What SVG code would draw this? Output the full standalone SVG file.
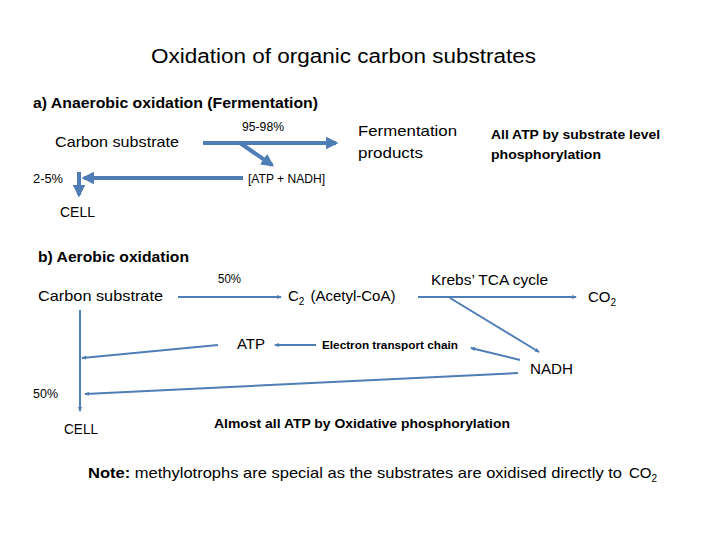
<svg xmlns="http://www.w3.org/2000/svg" width="720" height="540" viewBox="0 0 720 540">
<style>
text{font-family:"Liberation Sans","Noto Sans",sans-serif;fill:#000}
.t{font-size:20px}
.h{font-size:15px;font-weight:bold}
.n{font-size:15px}
.s{font-size:12px}
.b{font-size:13px;font-weight:bold}
.e{font-size:11px;font-weight:bold}
.thick{stroke:#4f7db5;stroke-width:4;fill:none}
.thin{stroke:#4f7db5;stroke-width:2;fill:none}
</style>
<defs>
<marker id="ah" viewBox="0 0 10 10" refX="8" refY="5" markerWidth="3.2" markerHeight="3.2" orient="auto" markerUnits="strokeWidth">
<path d="M0,0 L10,5 L0,10 z" fill="#4f7db5"/>
</marker>
<marker id="as" viewBox="0 0 10 10" refX="8" refY="5" markerWidth="2.6" markerHeight="2.6" orient="auto" markerUnits="strokeWidth">
<path d="M0,1 L10,5 L0,9 z" fill="#4f7db5"/>
</marker>
</defs>
<rect width="720" height="540" fill="#fff"/>
<g id="title"><text class="t" x="151" y="63" textLength="385" lengthAdjust="spacingAndGlyphs">Oxidation of organic carbon substrates</text></g>
<g id="heading-a"><text class="h" x="33" y="108" textLength="285" lengthAdjust="spacingAndGlyphs">a) Anaerobic oxidation (Fermentation)</text></g>
<g id="a-substrate"><text class="n" x="55" y="147" textLength="124" lengthAdjust="spacingAndGlyphs">Carbon substrate</text></g>
<g id="a-pct1"><text class="s" x="242" y="131" textLength="42" lengthAdjust="spacingAndGlyphs">95-98%</text></g>
<g id="a-products"><text class="n" x="358" y="136" textLength="99" lengthAdjust="spacingAndGlyphs">Fermentation</text><text class="n" x="358" y="158" textLength="65" lengthAdjust="spacingAndGlyphs">products</text></g>
<g id="a-note"><text class="b" x="491" y="139" textLength="169" lengthAdjust="spacingAndGlyphs">All ATP by substrate level</text><text class="b" x="491" y="159" textLength="110" lengthAdjust="spacingAndGlyphs">phosphorylation</text></g>
<g id="a-pct2"><text class="s" x="33" y="183" textLength="30" lengthAdjust="spacingAndGlyphs">2-5%</text></g>
<g id="a-atp"><text class="s" x="248" y="183" textLength="77" lengthAdjust="spacingAndGlyphs">[ATP + NADH]</text></g>
<g id="a-cell"><text class="n" x="60" y="217" textLength="35" lengthAdjust="spacingAndGlyphs">CELL</text></g>
<g id="heading-b"><text class="h" x="38" y="262" textLength="151" lengthAdjust="spacingAndGlyphs">b) Aerobic oxidation</text></g>
<g id="b-substrate"><text class="n" x="38" y="301" textLength="125" lengthAdjust="spacingAndGlyphs">Carbon substrate</text></g>
<g id="b-pct1"><text class="s" x="218" y="283" textLength="23" lengthAdjust="spacingAndGlyphs">50%</text></g>
<g id="b-acetyl"><text class="n" x="288" y="301">C<tspan font-size="10" dy="4">2</tspan><tspan dy="-4" dx="6">(Acetyl-CoA)</tspan></text></g>
<g id="b-krebs"><text class="n" x="431" y="285" textLength="117" lengthAdjust="spacingAndGlyphs">Krebs’ TCA cycle</text></g>
<g id="b-co2"><text class="n" x="588" y="302">CO<tspan font-size="10" dy="4">2</tspan></text></g>
<g id="b-atp"><text class="n" x="237" y="349" textLength="28" lengthAdjust="spacingAndGlyphs">ATP</text></g>
<g id="b-etc"><text class="e" x="322" y="349" textLength="136" lengthAdjust="spacingAndGlyphs">Electron transport chain</text></g>
<g id="b-nadh"><text class="n" x="530" y="374" textLength="43" lengthAdjust="spacingAndGlyphs">NADH</text></g>
<g id="b-pct2"><text class="s" x="33" y="398" textLength="25" lengthAdjust="spacingAndGlyphs">50%</text></g>
<g id="b-cell"><text class="n" x="64" y="434" textLength="34" lengthAdjust="spacingAndGlyphs">CELL</text></g>
<g id="b-note"><text class="b" x="214" y="428" textLength="296" lengthAdjust="spacingAndGlyphs">Almost all ATP by Oxidative phosphorylation</text></g>
<g id="footnote"><text class="n" x="88" y="478" textLength="534" lengthAdjust="spacingAndGlyphs"><tspan font-weight="bold">Note:</tspan> methylotrophs are special as the substrates are oxidised directly to</text><text class="n" x="629" y="478">CO<tspan font-size="10" dy="4">2</tspan></text></g>
<g id="connectors">
<line class="thick" x1="203" y1="143" x2="336" y2="143" marker-end="url(#ah)"/>
<line class="thick" x1="240" y1="143" x2="272" y2="165" marker-end="url(#ah)"/>
<line class="thick" x1="243" y1="178" x2="84" y2="178" marker-end="url(#ah)"/>
<line class="thick" x1="79" y1="172" x2="79" y2="195" marker-end="url(#ah)"/>
<line class="thin" x1="178" y1="297" x2="281" y2="297" marker-end="url(#as)"/>
<line class="thin" x1="418" y1="297" x2="576" y2="297" marker-end="url(#as)"/>
<line class="thin" x1="450" y1="298" x2="539" y2="352" marker-end="url(#as)"/>
<line class="thin" x1="316" y1="345" x2="275" y2="345" marker-end="url(#as)"/>
<line class="thin" x1="520" y1="360" x2="471" y2="348" marker-end="url(#as)"/>
<line class="thin" x1="218" y1="345" x2="82" y2="358" marker-end="url(#as)"/>
<line class="thin" x1="518" y1="373" x2="85" y2="394" marker-end="url(#as)"/>
<line class="thin" x1="80" y1="310" x2="80" y2="411" marker-end="url(#as)"/>
</g>
</svg>
